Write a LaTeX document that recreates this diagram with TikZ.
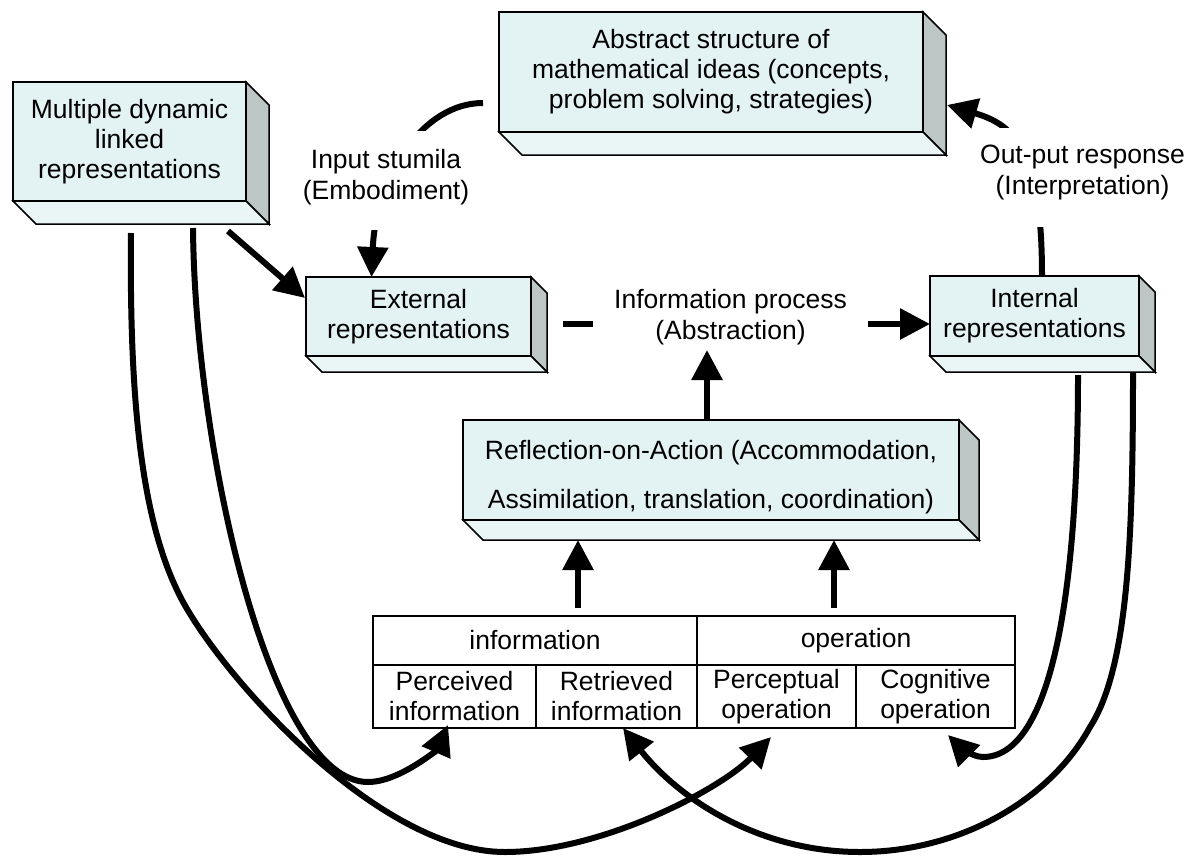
\documentclass[tikz,border=0pt]{standalone}
\usepackage{fontspec}
\setmainfont{Liberation Sans}
\usetikzlibrary{arrows.meta,calc}

\definecolor{facecyan}{HTML}{E3F2F2}
\definecolor{floorcyan}{HTML}{EAF6F6}
\definecolor{sidegray}{HTML}{BCC7C5}

\tikzset{
  slab/.style={draw=black, line width=1.5pt, fill=facecyan, inner sep=0pt,
    outer sep=0pt, align=center, font=\fontsize{26.5}{30}\selectfont},
  cell/.style={draw=black, line width=1.6pt, inner sep=0pt, outer sep=0pt,
    align=center, font=\fontsize{26.5}{30}\selectfont},
  lbl/.style={fill=white, align=center, font=\fontsize{26.5}{31}\selectfont,
    inner xsep=3pt},
  arr/.style={line width=6pt, -{Triangle[length=30pt,width=30pt]}},
}

% right and bottom faces that give a slab node its depth
\newcommand\slabdepth[2]{%
  \draw[line width=1.5pt, fill=sidegray] (#1.north east) -- ++(#2,#2)
    -- ($(#1.south east)+(#2,#2)$) -- (#1.south east) -- cycle;
  \draw[line width=1.5pt, fill=floorcyan] (#1.south west) -- ++(#2,#2)
    -- ($(#1.south east)+(#2,#2)$) -- (#1.south east) -- cycle;
}

\begin{document}
\begin{tikzpicture}[x=1pt,y=-1pt]
\useasboundingbox (0,0) rectangle (1196,857);

% ---- slabs ----
\node[slab, minimum width=233pt, minimum height=119pt] (mdl) at (129.5,141.5)
  {Multiple dynamic\\linked\\representations};
\slabdepth{mdl}{23}

\node[slab, minimum width=424pt, minimum height=120pt] (abs) at (711,72)
  {Abstract structure of\\mathematical ideas (concepts,\\problem solving, strategies)};
\slabdepth{abs}{23}

\node[slab, minimum width=225pt, minimum height=79pt] (ext) at (418.5,316.5)
  {External\\representations};
\slabdepth{ext}{16}

\node[slab, minimum width=209pt, minimum height=80pt] (int) at (1034.5,316)
  {Internal\\representations};
\slabdepth{int}{16}

\node[slab, minimum width=496pt, minimum height=100pt] (refl) at (711,470)
  {\rule{0pt}{33pt}Reflection-on-Action (Accommodation,\\[19pt]Assimilation, translation, coordination)};
\slabdepth{refl}{20}

% ---- information / operation table ----
\node[cell, minimum width=324pt, minimum height=49pt] (info) at (535,640.5) {information};
\node[cell, minimum width=318pt, minimum height=49pt] (oper) at (856,640.5) {operation};
\node[cell, minimum width=163pt, minimum height=63pt] (perc) at (454.5,696.5) {Perceived\\information};
\node[cell, minimum width=161pt, minimum height=63pt] (retr) at (616.5,696.5) {Retrieved\\information};
\node[cell, minimum width=159pt, minimum height=63pt] (pcop) at (776.5,696.5) {Perceptual\\operation};
\node[cell, minimum width=159pt, minimum height=63pt] (cogn) at (935.5,696.5) {Cognitive\\operation};

% ---- connectors running behind the labels ----
\draw[arr] ($(abs.west)+(-16,31)$) .. controls (423,103) and (376,175) .. ($(ext.north)+(-47,0)$);
\draw[arr] ($(int.north)+(7.5,0)$) .. controls (1042,150) and (1015,125) .. ($(abs.east)+(24,33)$);
\draw[arr] ($(ext.east)+(32,7.5)$) -- ($(int.west)+(0,8)$);

% ---- labels ----
\node[lbl, anchor=north, inner ysep=18pt] (inlbl) at (386,131)
  {Input stumila\\(Embodiment)\rule[-13pt]{0pt}{0pt}};
\node[lbl, anchor=north, inner ysep=17pt] (outlbl) at (1082.5,128)
  {Out-put response\\(Interpretation)\rule[-15pt]{0pt}{0pt}};
\node[lbl, inner xsep=21pt, inner ysep=2pt] (proc) at (730.5,317)
  {Information process\\(Abstraction)};

% ---- straight arrows ----
\coordinate (abtip) at (707,350);
\draw[arr] (abtip |- refl.north) -- (abtip);

\coordinate (reflbase) at ($(refl.south)+(0,20)$);
\coordinate (upa) at ($(info.north)+(43,-8)$);
\coordinate (upb) at ($(oper.north)+(-22,-8)$);
\draw[arr] (upa) -- (upa |- reflbase);
\draw[arr] (upb) -- (upb |- reflbase);

\draw[arr] ($(mdl.south east)+(-18,30)$) -- ($(ext.north west)+(-1,21)$);

% ---- long curved arrows into the table ----
\draw[arr] ($(mdl.south)+(63.5,27)$)
  .. controls (195,450) and (270,782) .. (368,782)
  .. controls (400,782) and (438,748) .. ($(perc.south)+(-6.5,-3)$);

\draw[arr] ($(mdl.south)+(1.5,32)$)
  .. controls (129,420) and (145,530) .. (182,600)
  .. controls (225,680) and (380,852) .. (505,852)
  .. controls (600,852) and (720,790) .. ($(pcop.south)+(-5.5,9)$);

\draw[arr] ($(int.south)+(43.5,19)$)
  .. controls (1078,600) and (1050,757) .. (983,757)
  .. controls (970,757) and (955,742) .. ($(cogn.south)+(12.5,7)$);

\draw[arr] ($(int.south)+(98.5,17)$)
  .. controls (1133,540) and (1128,668) .. (1090,727)
  .. controls (1050,800) and (960,852) .. (860,852)
  .. controls (760,852) and (680,800) .. ($(retr.south)+(6.5,0)$);
\end{tikzpicture}
\end{document}
